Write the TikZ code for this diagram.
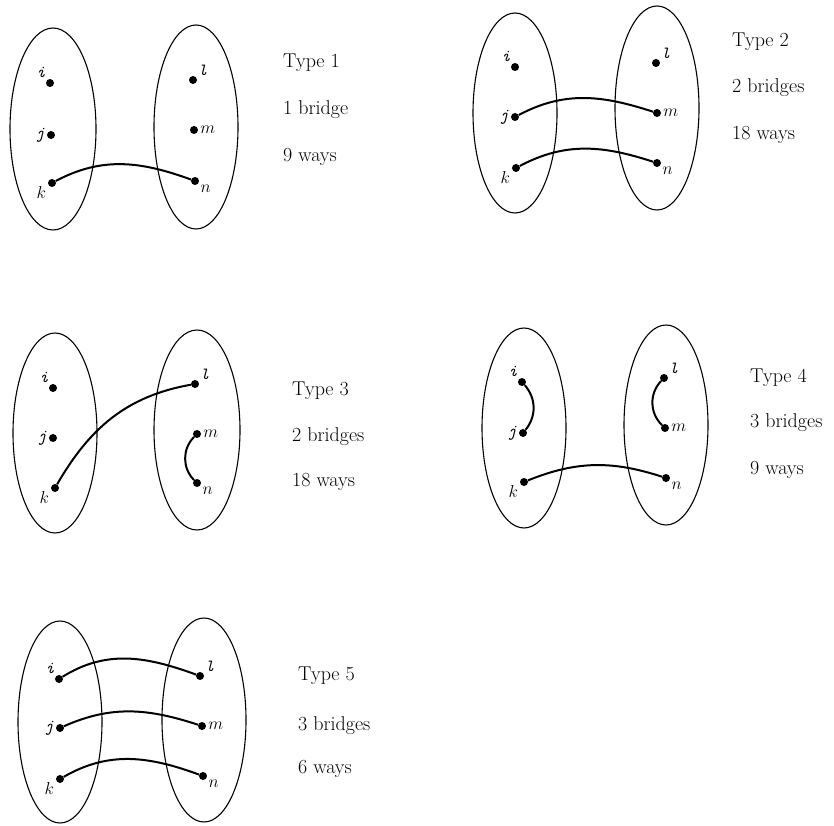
\documentclass[tikz,border=0pt]{standalone}
\begin{document}
\begin{tikzpicture}[x=1pt,y=1pt,
  dot/.style={circle,fill,inner sep=0pt,minimum size=8pt},
  lbl/.style={font=\fontsize{17}{17}\selectfont,inner sep=1pt,label distance=1pt},
  info/.style={font=\fontsize{20}{20}\selectfont,anchor=base west,inner sep=0pt},
  setring/.style={line width=1.1pt},
  bridge/.style={line width=2pt}]
\useasboundingbox (0,0) rectangle (834,825);
\newcommand{\ti}{\texttt{\itshape i}}
\newcommand{\tj}{\texttt{\itshape j}}
\newcommand{\tl}{\texttt{\itshape l}}
% ---------- Panel 1
\draw[setring] (53,696) ellipse [x radius=43,y radius=101];
\draw[setring] (196,698) ellipse [x radius=42,y radius=102];
\node[dot,label={[lbl]130:\ti}] (i1) at (50,742) {};
\node[dot,label={[lbl]180:\tj}] (j1) at (51,690) {};
\node[dot,label={[lbl]205:$k$}] (k1) at (52,642) {};
\node[dot,label={[lbl]35:\tl}] (l1) at (193,745) {};
\node[dot,label={[lbl]0:$m$}] (m1) at (194,695) {};
\node[dot,label={[lbl]-30:$n$}] (n1) at (195,644) {};
\draw[bridge] (k1) to[out=28,in=160] (n1);
\node[info] (t1a) at (283,757) {Type 1};
\node[info] (t1b) at (283,710) {1 bridge};
\node[info] (t1c) at (283,663) {9 ways};
% ---------- Panel 2
\draw[setring] (515,712) ellipse [x radius=42,y radius=100];
\draw[setring] (657,717) ellipse [x radius=42,y radius=102];
\node[dot,label={[lbl]130:\ti}] (i2) at (515,758) {};
\node[dot,label={[lbl]180:\tj}] (j2) at (515,708) {};
\node[dot,label={[lbl]205:$k$}] (k2) at (516,657) {};
\node[dot,label={[lbl]35:\tl}] (l2) at (656,762) {};
\node[dot,label={[lbl]0:$m$}] (m2) at (657,712) {};
\node[dot,label={[lbl]-30:$n$}] (n2) at (657,662) {};
\draw[bridge] (j2) to[out=28,in=162] (m2);
\draw[bridge] (k2) to[out=28,in=162] (n2);
\node[info] (t2a) at (732,778) {Type 2};
\node[info] (t2b) at (732,732) {2 bridges};
\node[info] (t2c) at (732,685) {18 ways};
% ---------- Panel 3
\draw[setring] (55,392) ellipse [x radius=42,y radius=100];
\draw[setring] (197,395) ellipse [x radius=43,y radius=100];
\node[dot,label={[lbl]130:\ti}] (i3) at (53,437) {};
\node[dot,label={[lbl]180:\tj}] (j3) at (53,387) {};
\node[dot,label={[lbl]205:$k$}] (k3) at (55,337) {};
\node[dot,label={[lbl]35:\tl}] (l3) at (195,441) {};
\node[dot,label={[lbl]0:$m$}] (m3) at (197,391) {};
\node[dot,label={[lbl]-30:$n$}] (n3) at (197,342) {};
\draw[bridge] (k3) to[out=60,in=190] (l3);
\draw[bridge] (m3) to[bend right=45] (n3);
\node[info] (t3a) at (292,429) {Type 3};
\node[info] (t3b) at (292,383) {2 bridges};
\node[info] (t3c) at (292,338) {18 ways};
% ---------- Panel 4
\draw[setring] (524,397) ellipse [x radius=42,y radius=100];
\draw[setring] (666,400) ellipse [x radius=42,y radius=100];
\node[dot,label={[lbl]130:\ti}] (i4) at (522,443) {};
\node[dot,label={[lbl]180:\tj}] (j4) at (523,392) {};
\node[dot,label={[lbl]205:$k$}] (k4) at (524,343) {};
\node[dot,label={[lbl]35:\tl}] (l4) at (664,447) {};
\node[dot,label={[lbl]0:$m$}] (m4) at (665,397) {};
\node[dot,label={[lbl]-30:$n$}] (n4) at (666,347) {};
\draw[bridge] (i4) to[bend left=40] (j4);
\draw[bridge] (l4) to[bend right=45] (m4);
\draw[bridge] (k4) to[out=22,in=162] (n4);
\node[info] (t4a) at (750,442) {Type 4};
\node[info] (t4b) at (750,397) {3 bridges};
\node[info] (t4c) at (750,350) {9 ways};
% ---------- Panel 5
\draw[setring] (60,103) ellipse [x radius=42,y radius=101];
\draw[setring] (204,105) ellipse [x radius=42,y radius=102];
\node[dot,label={[lbl]130:\ti}] (i5) at (59,146) {};
\node[dot,label={[lbl]180:\tj}] (j5) at (60,97) {};
\node[dot,label={[lbl]205:$k$}] (k5) at (60,46) {};
\node[dot,label={[lbl]35:\tl}] (l5) at (200,149) {};
\node[dot,label={[lbl]0:$m$}] (m5) at (202,99) {};
\node[dot,label={[lbl]-30:$n$}] (n5) at (203,49) {};
\draw[bridge] (i5) to[out=32,in=160] (l5);
\draw[bridge] (j5) to[out=24,in=162] (m5);
\draw[bridge] (k5) to[out=30,in=160] (n5);
\node[info] (t5a) at (298,145) {Type 5};
\node[info] (t5b) at (298,95) {3 bridges};
\node[info] (t5c) at (298,52) {6 ways};
\end{tikzpicture}
\end{document}
